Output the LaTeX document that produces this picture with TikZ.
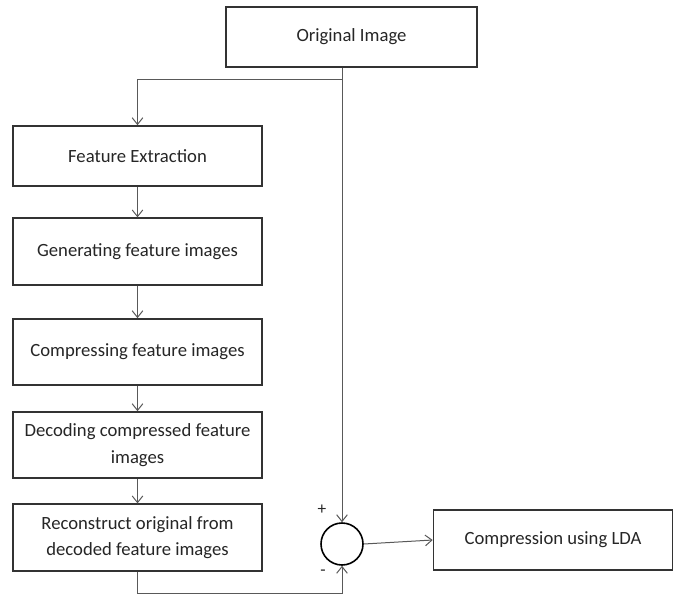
\documentclass[tikz,border=0pt]{standalone}
\usepackage{fontspec}
\setmainfont{Carlito}
\usepackage{tikz}
\usetikzlibrary{arrows.meta,shapes,positioning}

\begin{document}
\begin{tikzpicture}
[x=0.75pt, y=-0.75pt,
  stagebox/.style={rectangle, draw=black!80, line width=1.2pt, fill=white,
    text=black!85, minimum width=186.75pt, align=center, inner sep=2pt,
    font=\fontsize{14}{20}\selectfont},
  sumnode/.style={circle, draw=black, line width=1.2pt, minimum size=31.5pt, inner sep=0pt},
  signlabel/.style={font=\fontsize{13}{14}\selectfont, text=black!85, inner sep=0pt},
  flow/.style={draw=black!65, line width=0.75pt, ->},
  >={Straight Barb[length=5pt,width=8pt]}]
  \useasboundingbox (0,0) rectangle (673,595);
  \node[stagebox, minimum width=188.25pt, minimum height=45pt] (orig) at (351.5,37) {Original Image};
  \node[stagebox, minimum height=45pt] (feat) at (137.5,156) {Feature Extraction};
  \node[stagebox, minimum height=50pt] (gen) at (137.5,251.5) {Generating feature images};
  \node[stagebox, minimum height=49.5pt] (comp) at (137.5,352) {Compressing feature images};
  \node[stagebox, minimum height=49.5pt] (dec) at (137.5,445) {Decoding compressed feature\\images};
  \node[stagebox, minimum height=50pt] (rec) at (137.5,537.5) {Reconstruct original from\\decoded feature images};
  \node[sumnode] (sum) at (342,544) {};
  \node[stagebox, minimum width=179.25pt, minimum height=45pt] (lda) at (553,540) {Compression using LDA};
  \node[signlabel] (plus) at (322,510) {+};
  \node[signlabel] (minus) at (323,573) {-};
  \coordinate (split) at (342,80);
  \coordinate (low) at (342,593);

  \draw[flow] (orig.south -| sum.north) -- (sum.north);
  \draw[flow] (split) -| (feat.north);
  \draw[flow] (feat) -- (gen);
  \draw[flow] (gen) -- (comp);
  \draw[flow] (comp) -- (dec);
  \draw[flow] (dec) -- (rec);
  \draw[flow] (rec.south) |- (low) -- (sum.south);
  \draw[flow] (sum.east) -- (lda.west);
\end{tikzpicture}
\end{document}
